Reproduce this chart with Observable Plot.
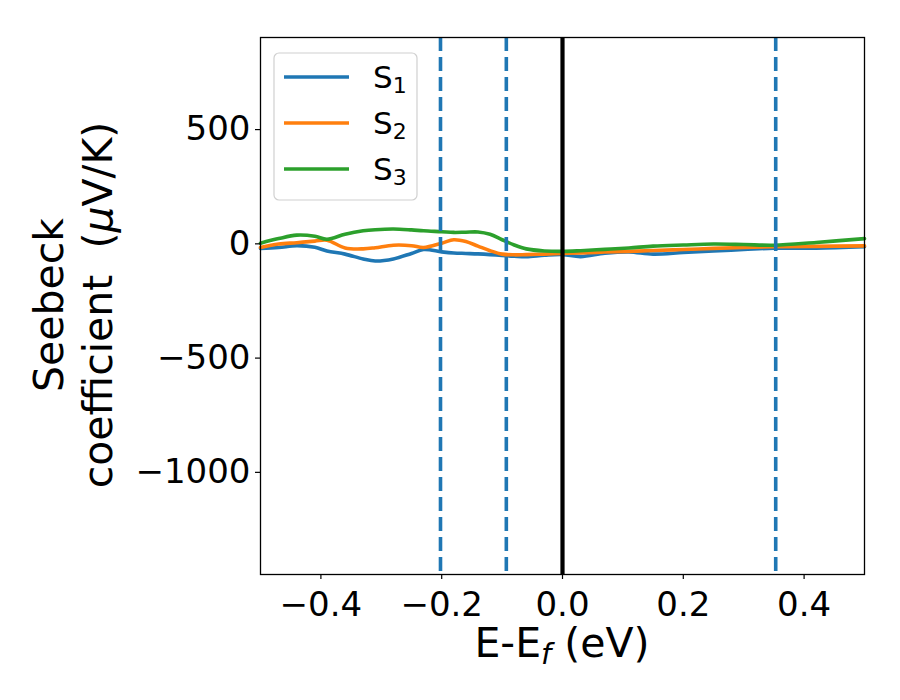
<!DOCTYPE html>
<html><head><meta charset="utf-8">
<script src="https://cdn.jsdelivr.net/npm/d3@7"></script>
<script src="https://cdn.jsdelivr.net/npm/@observablehq/plot@0.6"></script>
<style>body{margin:0;background:#fff;} #chart svg{font-family:"DejaVu Sans";}</style>
</head><body><div id="chart"></div>
<script>
const energy = [-0.5,-0.47,-0.44,-0.41,-0.39,-0.36,-0.33,-0.31,-0.28,-0.25,-0.23,-0.20,-0.18,-0.16,-0.14,-0.12,-0.10,-0.08,-0.06,-0.03,0.0,0.03,0.07,0.11,0.15,0.20,0.25,0.30,0.35,0.42,0.5];
const s1 = [-20,-16,-8,-15,-31,-45,-66,-75,-66,-42,-25,-35,-40,-42,-44,-47,-51,-54,-56,-50,-47,-56,-41,-35,-45,-38,-31,-25,-19,-19,-13];
const s2 = [-16,-1,5,12,16,-18,-22,-17,-6,-8,-16,3,18,10,-10,-30,-45,-48,-47,-45,-42,-40,-36,-33,-29,-25,-20,-16,-13,-11,-9];
const s3 = [3,23,38,33,20,42,57,62,65,61,57,53,50,51,52,42,18,-5,-22,-31,-33,-30,-24,-18,-10,-5,-1,-3,-6,6,23];
const seriesNames = ["S1","S2","S3"];
const seriesSubs = ["1","2","3"];
const seriesColors = ["#1f77b4","#ff7f0e","#2ca02c"];
const dashedLines = [-0.202,-0.093,0.353];
const fermiLine = [0];
const xTicks = [-0.4,-0.2,0,0.2,0.4];
const yTicks = [500,0,-500,-1000];

const rows = [];
[s1,s2,s3].forEach((s,i)=>energy.forEach((e,j)=>rows.push({E:e,S:s[j],series:seriesNames[i]})));

const fmtX = d => (d<0?"\u2212":"") + Math.abs(d).toFixed(1);
const fmtY = d => (d<0?"\u2212":"") + Math.abs(d);

const plot = Plot.plot({
  width:900, height:700, marginLeft:260, marginRight:36, marginTop:37, marginBottom:126,
  style:{fontFamily:"DejaVu Sans", fontSize:"34px", background:"white", color:"black"},
  x:{domain:[-0.5,0.5]},
  y:{domain:[-1447,903]},
  color:{domain:seriesNames, range:seriesColors},
  marks:[
    Plot.line(rows,{x:"E",y:"S",stroke:"series",strokeWidth:3.6,curve:"catmull-rom"}),
    Plot.ruleX(dashedLines,{stroke:"#1f77b4",strokeWidth:3.6,strokeDasharray:"14,6"}),
    Plot.ruleX(fermiLine,{stroke:"black",strokeWidth:4.2}),
    Plot.frame({stroke:"black",strokeWidth:1.3}),
    Plot.axisX({ticks:xTicks,tickFormat:fmtX,tickSize:5,tickPadding:12,label:null,fontSize:34,strokeWidth:1.2}),
    Plot.axisY({ticks:yTicks,tickFormat:fmtY,tickSize:5,tickPadding:5,label:null,fontSize:34,strokeWidth:1.2})
  ]
});
document.getElementById("chart").appendChild(plot);

const svg = d3.select(plot);
// x label
const xl = svg.append("text").attr("x",562).attr("y",657).attr("text-anchor","middle")
  .attr("font-size",41).attr("fill","black");
xl.append("tspan").text("E-E");
xl.append("tspan").attr("font-size",29).attr("font-style","italic").attr("dy",7).text("f");
xl.append("tspan").attr("dy",-7).text("\u00a0(eV)");
// y label (two lines)
const yl = svg.append("g").attr("transform","translate(63,305) rotate(-90)");
yl.append("text").attr("text-anchor","middle").attr("font-size",41).attr("fill","black").text("Seebeck");
const y2 = yl.append("text").attr("y",49).attr("text-anchor","middle").attr("font-size",41).attr("fill","black");
y2.append("tspan").text("coefficient\u00a0\u00a0(");
y2.append("tspan").attr("font-style","italic").text("\u03bc");
y2.append("tspan").text("V/K)");
// legend
const lg = svg.append("g");
lg.append("rect").attr("x",274).attr("y",53).attr("width",143).attr("height",147).attr("rx",5)
  .attr("fill","white").attr("fill-opacity",0.8).attr("stroke","#d0d0d0").attr("stroke-width",1.2);
seriesNames.forEach((n,i)=>{
  const yy = 77 + i*46;
  lg.append("line").attr("x1",284).attr("x2",349).attr("y1",yy).attr("y2",yy)
    .attr("stroke",seriesColors[i]).attr("stroke-width",3.6);
  const t = lg.append("text").attr("x",373).attr("y",yy+11).attr("text-anchor","start")
    .attr("font-size",31).attr("fill","black");
  t.append("tspan").text("S");
  t.append("tspan").attr("font-size",22).attr("dy",5).text(seriesSubs[i]);
});
</script></body></html>
